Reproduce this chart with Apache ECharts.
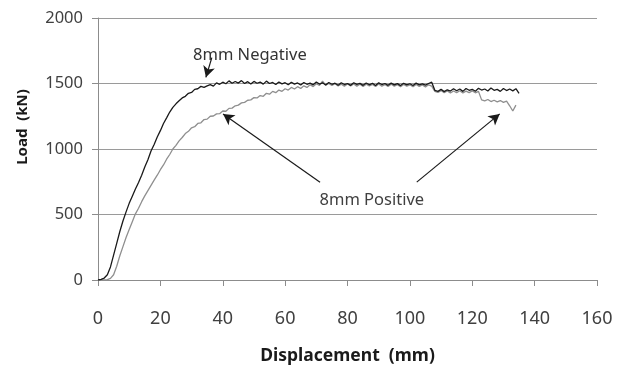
<!DOCTYPE html>
<html>
<head>
<meta charset="utf-8">
<script src="https://cdn.jsdelivr.net/npm/echarts@6/dist/echarts.min.js"></script>
<style>html,body{margin:0;padding:0;background:#fff}#c{width:629px;height:370px}</style>
</head>
<body>
<div id="c"></div>
<script>
// Tick labels
var xTicks = [0, 20, 40, 60, 80, 100, 120, 140, 160];
var yTicks = [0, 500, 1000, 1500, 2000];

// 8mm Negative (black) : displacement (mm) / load (kN)
var negX = [0,1,2,3,4,5,6,7,8,9,10,11,12,13,14,15,16,17,18,19,20,21,22,23,24,25,26,27,28,29,30,31,32,33,34,35,36,37,38,39,40,41,42,43,44,45,46,47,48,49,50,51,52,53,54,55,56,57,58,59,60,61,62,63,64,65,66,67,68,69,70,71,72,73,74,75,76,77,78,79,80,81,82,83,84,85,86,87,88,89,90,91,92,93,94,95,96,97,98,99,100,101,102,103,104,105,106,107,108,109,110,111,112,113,114,115,116,117,118,119,120,121,122,123,124,125,126,127,128,129,130,131,132,133,134,135];
var negY = [0,5,15,40,100,190,280,370,450,520,585,640,695,745,800,862,918,985,1035,1092,1140,1195,1238,1282,1318,1345,1368,1390,1402,1425,1432,1455,1460,1478,1470,1482,1492,1480,1505,1494,1510,1498,1520,1502,1515,1503,1522,1500,1514,1496,1516,1502,1511,1495,1518,1500,1508,1492,1512,1497,1506,1490,1510,1495,1504,1488,1508,1494,1503,1490,1512,1496,1505,1488,1508,1494,1502,1487,1506,1492,1500,1486,1506,1493,1501,1486,1504,1490,1502,1485,1505,1492,1500,1486,1503,1490,1499,1484,1502,1489,1498,1485,1503,1490,1497,1488,1500,1510,1448,1440,1455,1438,1452,1442,1460,1445,1458,1440,1462,1448,1456,1441,1463,1450,1458,1443,1465,1448,1455,1440,1462,1446,1458,1444,1460,1425];

// 8mm Positive (grey)
var posX = [0,1,2,3,4,5,6,7,8,9,10,11,12,13,14,15,16,17,18,19,20,21,22,23,24,25,26,27,28,29,30,31,32,33,34,35,36,37,38,39,40,41,42,43,44,45,46,47,48,49,50,51,52,53,54,55,56,57,58,59,60,61,62,63,64,65,66,67,68,69,70,71,72,73,74,75,76,77,78,79,80,81,82,83,84,85,86,87,88,89,90,91,92,93,94,95,96,97,98,99,100,101,102,103,104,105,106,107,108,109,110,111,112,113,114,115,116,117,118,119,120,121,122,123,124,125,126,127,128,129,130,131,132,133,134];
var posY = [0,0,0,3,12,40,105,185,255,325,385,445,505,548,598,642,682,722,762,800,842,878,922,958,1000,1028,1062,1088,1118,1135,1162,1170,1195,1200,1225,1228,1250,1252,1268,1270,1290,1288,1310,1312,1330,1335,1352,1356,1372,1375,1392,1390,1408,1402,1425,1418,1440,1430,1450,1440,1460,1450,1470,1458,1476,1462,1482,1470,1490,1476,1498,1486,1518,1488,1500,1485,1498,1482,1495,1480,1496,1482,1497,1480,1494,1478,1495,1481,1493,1478,1496,1480,1492,1477,1494,1480,1491,1476,1493,1479,1490,1475,1492,1478,1489,1474,1490,1480,1440,1432,1446,1430,1444,1428,1443,1430,1445,1428,1442,1430,1444,1429,1440,1375,1368,1378,1362,1372,1360,1370,1356,1366,1330,1290,1335];

// Annotations (data coordinates)
var negLabel = {text: '8mm Negative', at: [48.7, 1713]};
var posLabel = {text: '8mm Positive', at: [87.8, 611]};
var negArrow = [[36.5, 1698], [34.6, 1547]];
var posArrows = [[[71.2, 747], [40.1, 1268]], [[102.2, 747], [128.8, 1268]]];

function zip(xs, ys) { return xs.map(function (x, i) { return [x, ys[i]]; }); }

var chart = echarts.init(document.getElementById('c'), null, {renderer: 'canvas'});
var font = 'Noto Sans';
var arrowStyle = {color: '#1a1a1a', width: 1.2, type: 'solid'};

chart.setOption({
  animation: false,
  backgroundColor: '#fff',
  grid: {left: 98, right: 32, top: 18, bottom: 87, containLabel: false},
  xAxis: {
    type: 'value', min: 0, max: 160, interval: 20,
    name: 'Displacement  (mm)', nameLocation: 'middle', nameGap: 67,
    nameTextStyle: {fontFamily: font, fontWeight: 'bold', fontSize: 17.5, color: '#1a1a1a'},
    axisLine: {show: true, lineStyle: {color: '#8c8c8c', width: 1}},
    axisTick: {show: true, inside: false, length: 6, lineStyle: {color: '#8c8c8c'}},
    axisLabel: {fontFamily: font, fontSize: 18, color: '#404040', margin: 30,
      formatter: function (v) { return xTicks.indexOf(v) >= 0 ? String(v) : ''; }},
    splitLine: {show: false}
  },
  yAxis: {
    type: 'value', min: 0, max: 2000, interval: 500,
    axisLine: {show: true, lineStyle: {color: '#8c8c8c', width: 1}},
    axisTick: {show: true, inside: false, length: 6, lineStyle: {color: '#8c8c8c'}},
    axisLabel: {fontFamily: font, fontSize: 16.5, color: '#404040', margin: 15,
      formatter: function (v) { return yTicks.indexOf(v) >= 0 ? String(v) : ''; }},
    splitLine: {show: true, lineStyle: {color: '#9a9a9a', width: 1}}
  },
  graphic: [{
    type: 'text', x: 23, y: 127, rotation: Math.PI / 2,
    style: {text: 'Load  (kN)', font: 'bold 15px "Noto Sans"', fill: '#1a1a1a',
      align: 'center', verticalAlign: 'middle'}
  }],
  series: [
    {
      name: '8mm Positive', type: 'line', data: zip(posX, posY), showSymbol: false,
      lineStyle: {color: '#8f8f8f', width: 1.3}, itemStyle: {color: '#8f8f8f'}, z: 2,
      markLine: {silent: true, symbol: ['none', 'arrow'], symbolSize: [9, 11],
        lineStyle: arrowStyle, label: {show: false},
        data: posArrows.map(function (a) { return [{coord: a[0]}, {coord: a[1]}]; })},
      markPoint: {silent: true, symbol: 'circle', symbolSize: 0,
        label: {show: true, position: 'inside', formatter: posLabel.text,
          fontFamily: font, fontSize: 16.5, color: '#404040'},
        data: [{coord: posLabel.at}]}
    },
    {
      name: '8mm Negative', type: 'line', data: zip(negX, negY), showSymbol: false,
      lineStyle: {color: '#1a1a1a', width: 1.3}, itemStyle: {color: '#1a1a1a'}, z: 3,
      markLine: {silent: true, symbol: ['none', 'arrow'], symbolSize: [9, 11],
        lineStyle: arrowStyle, label: {show: false},
        data: [[{coord: negArrow[0]}, {coord: negArrow[1]}]]},
      markPoint: {silent: true, symbol: 'circle', symbolSize: 0,
        label: {show: true, position: 'inside', formatter: negLabel.text,
          fontFamily: font, fontSize: 16.5, color: '#333'},
        data: [{coord: negLabel.at}]}
    }
  ]
});
</script>
</body>
</html>
